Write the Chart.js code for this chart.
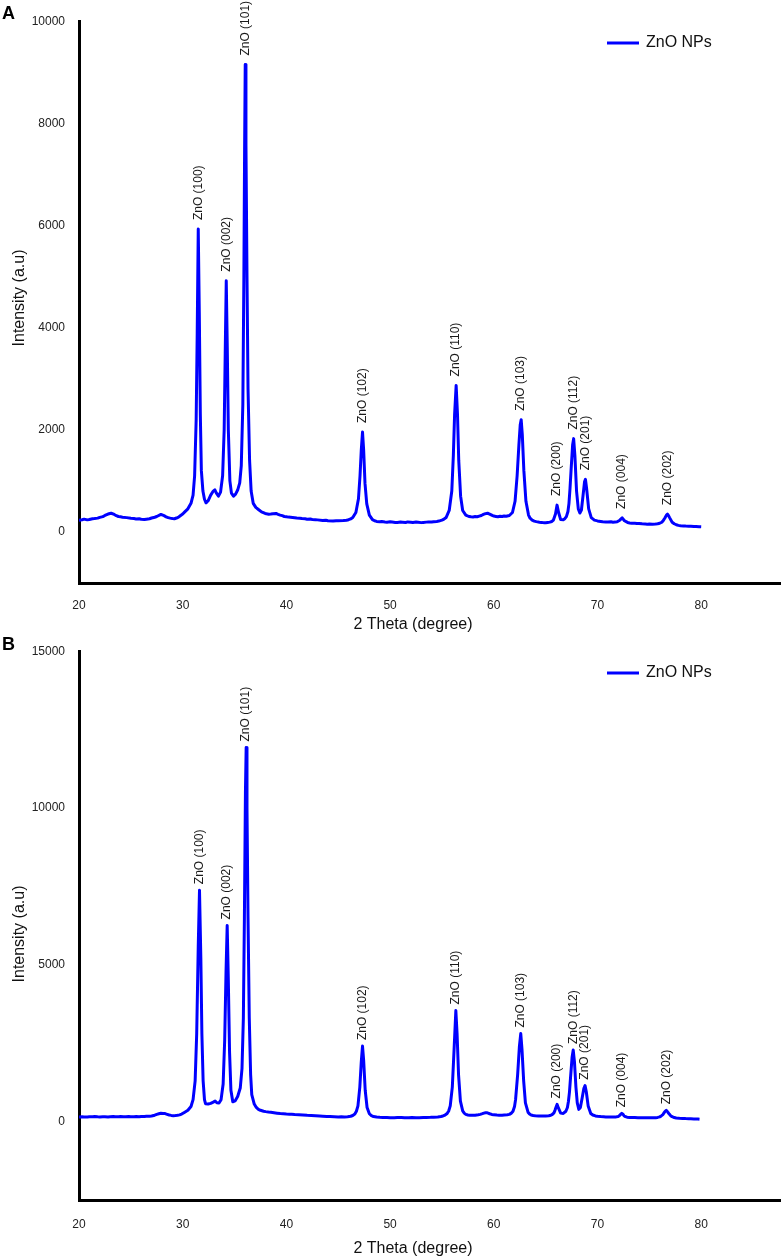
<!DOCTYPE html>
<html><head><meta charset="utf-8">
<script src="https://cdn.jsdelivr.net/npm/chart.js@4.4.0/dist/chart.umd.min.js"></script>
<style>
html,body{margin:0;padding:0;background:#fff;}
body{width:782px;height:1260px;position:relative;overflow:hidden;}
.panel{position:absolute;left:0;width:782px;}
</style></head><body>
<div class="panel" style="top:0;height:640px;z-index:1"><canvas id="cA"></canvas></div>
<div class="panel" style="top:630px;height:630px;z-index:2"><canvas id="cB"></canvas></div>
<script>
// ---------- DATA ----------
const seriesLabel = 'ZnO NPs';
const xTicks = [20, 30, 40, 50, 60, 70, 80];
const yTicksA = [0, 2000, 4000, 6000, 8000, 10000];
const yTicksB = [0, 5000, 10000, 15000];
const peakNames = ['ZnO (100)', 'ZnO (002)', 'ZnO (101)', 'ZnO (102)', 'ZnO (110)', 'ZnO (103)',
                   'ZnO (200)', 'ZnO (112)', 'ZnO (201)', 'ZnO (004)', 'ZnO (202)'];
const peakThetaA = [31.5, 34.2, 36.03, 47.34, 56.37, 62.64, 66.1, 67.7, 68.84, 72.38, 76.75];
const peakThetaB = [31.62, 34.29, 36.12, 47.34, 56.34, 62.6, 66.1, 67.66, 68.8, 72.34, 76.63];

// [2θ, intensity]
const xrdA = [
[20.0,230],[20.3,238],[20.5,250],[20.8,236],[21.0,242],[21.3,258],[21.5,262],[21.8,270],[22.0,285],[22.3,300],[22.5,322],[22.8,350],[23.1,366],[23.4,342],[23.6,318],[23.8,302],[24.0,296],[24.2,288],[24.6,280],[25.0,268],[25.3,262],[25.5,255],[25.8,258],[26.0,248],[26.3,242],[26.5,250],[26.8,258],[27.0,272],[27.3,288],[27.5,302],[27.9,342],[28.2,318],[28.4,296],[28.6,280],[28.8,270],[29.0,262],[29.2,258],[29.4,272],[29.6,290],[29.8,322],[30.0,350],[30.2,392],[30.5,452],[30.8,560],[31.0,720],[31.15,1100],[31.3,2200],[31.4,3900],[31.5,5930],[31.6,4300],[31.7,2300],[31.8,1200],[31.95,800],[32.1,640],[32.25,570],[32.45,610],[32.7,720],[32.95,800],[33.1,825],[33.25,760],[33.45,700],[33.65,780],[33.85,1100],[34.0,2000],[34.1,3500],[34.2,4920],[34.3,3600],[34.4,2000],[34.55,1000],[34.7,760],[34.9,700],[35.1,740],[35.3,820],[35.5,960],[35.65,1300],[35.8,2500],[35.9,5000],[35.97,7500],[36.03,9150],[36.1,7600],[36.2,5000],[36.3,2800],[36.45,1400],[36.6,800],[36.8,560],[37.05,480],[37.3,440],[37.6,392],[37.95,362],[38.3,348],[38.5,352],[38.7,358],[39.0,362],[39.2,345],[39.4,330],[39.6,318],[39.8,302],[40.0,296],[40.2,290],[40.6,282],[41.0,272],[41.3,268],[41.5,262],[41.8,258],[42.0,250],[42.3,252],[42.5,244],[42.8,240],[43.0,236],[43.5,226],[43.8,230],[44.0,220],[44.5,214],[44.8,220],[45.0,218],[45.5,222],[45.8,230],[46.0,240],[46.2,255],[46.4,282],[46.7,380],[46.95,650],[47.1,1100],[47.22,1600],[47.34,1956],[47.45,1600],[47.58,950],[47.75,550],[48.0,330],[48.3,240],[48.5,218],[48.7,206],[49.0,198],[49.2,202],[49.5,194],[49.7,190],[50.0,198],[50.2,194],[50.5,186],[50.7,186],[51.0,194],[51.2,190],[51.5,184],[51.7,196],[52.0,190],[52.2,186],[52.5,194],[52.7,190],[53.0,182],[53.2,186],[53.5,192],[53.7,196],[54.0,194],[54.2,200],[54.5,206],[54.7,212],[55.0,230],[55.2,250],[55.4,282],[55.7,420],[55.95,800],[56.1,1500],[56.22,2300],[56.37,2868],[56.5,2300],[56.62,1400],[56.8,700],[57.0,420],[57.3,330],[57.6,302],[57.8,296],[58.0,294],[58.2,300],[58.4,298],[58.6,310],[58.8,322],[59.0,342],[59.2,358],[59.4,366],[59.6,350],[59.7,340],[59.9,318],[60.0,310],[60.2,304],[60.4,298],[60.6,306],[60.8,302],[61.0,312],[61.2,308],[61.5,322],[61.8,380],[62.05,600],[62.25,1100],[62.42,1700],[62.55,2100],[62.64,2198],[62.75,1900],[62.9,1200],[63.1,600],[63.35,330],[63.5,268],[63.7,232],[63.9,212],[64.1,202],[64.4,190],[64.6,186],[64.8,182],[65.0,180],[65.2,186],[65.4,192],[65.6,205],[65.75,232],[65.95,350],[66.1,525],[66.25,380],[66.45,242],[66.7,240],[66.85,260],[67.0,300],[67.15,400],[67.25,560],[67.35,850],[67.45,1200],[67.6,1700],[67.7,1827],[67.82,1500],[67.98,800],[68.15,450],[68.3,370],[68.45,430],[68.6,700],[68.75,980],[68.84,1030],[68.95,850],[69.15,450],[69.4,280],[69.7,232],[70.0,216],[70.3,206],[70.5,200],[70.8,196],[71.0,194],[71.3,198],[71.5,190],[71.7,192],[71.9,200],[72.15,230],[72.38,275],[72.6,220],[72.9,186],[73.1,176],[73.3,170],[73.6,168],[73.8,164],[74.0,166],[74.3,160],[74.6,156],[74.8,152],[75.0,154],[75.3,150],[75.6,154],[75.8,160],[76.0,170],[76.2,190],[76.35,225],[76.5,272],[76.65,330],[76.75,348],[76.85,320],[76.95,280],[77.2,190],[77.4,160],[77.6,140],[77.8,128],[78.0,120],[78.3,118],[78.5,114],[78.8,112],[79.0,110],[79.3,106],[79.5,104],[79.8,102],[80.0,100]
];

// [2θ, intensity]
const xrdB = [
[20.0,148],[20.3,152],[20.5,150],[20.8,146],[21.0,155],[21.3,158],[21.5,160],[21.8,152],[22.0,150],[22.3,156],[22.5,155],[22.8,150],[23.0,158],[23.3,162],[23.5,152],[23.8,156],[24.0,160],[24.3,154],[24.5,158],[24.8,162],[25.0,155],[25.3,158],[25.5,160],[25.8,156],[26.0,165],[26.3,162],[26.5,170],[26.8,172],[27.0,180],[27.3,205],[27.5,230],[27.7,250],[27.9,265],[28.1,262],[28.3,255],[28.5,232],[28.7,210],[28.9,198],[29.1,190],[29.3,194],[29.5,200],[29.7,215],[29.9,240],[30.2,300],[30.5,360],[30.8,480],[31.0,700],[31.2,1300],[31.35,2800],[31.5,5600],[31.62,7380],[31.75,5200],[31.85,2800],[31.97,1300],[32.1,700],[32.2,570],[32.45,560],[32.7,580],[32.95,620],[33.13,655],[33.3,600],[33.5,590],[33.7,700],[33.9,1200],[34.05,2600],[34.18,4800],[34.29,6255],[34.4,4500],[34.52,2200],[34.65,1000],[34.83,630],[35.05,660],[35.3,800],[35.55,1070],[35.72,1700],[35.85,3300],[35.95,6500],[36.05,10500],[36.12,11930],[36.2,10000],[36.3,6500],[36.42,3300],[36.55,1500],[36.66,860],[36.9,560],[37.1,450],[37.3,392],[37.5,360],[37.8,332],[38.0,318],[38.27,305],[38.5,296],[38.8,282],[39.1,268],[39.4,256],[39.7,248],[40.0,240],[40.3,236],[40.5,233],[40.8,226],[41.2,220],[41.6,212],[42.0,200],[42.4,194],[42.8,186],[43.2,178],[43.5,172],[43.9,166],[44.2,160],[44.6,154],[45.0,148],[45.3,152],[45.6,150],[45.9,158],[46.2,170],[46.4,195],[46.6,240],[46.75,330],[46.9,500],[47.08,1100],[47.22,1900],[47.34,2408],[47.45,1950],[47.6,1000],[47.78,450],[48.0,250],[48.2,190],[48.4,162],[48.7,145],[49.0,136],[49.3,132],[49.7,128],[50.0,126],[50.4,125],[50.7,130],[51.1,130],[51.4,124],[51.8,126],[52.1,130],[52.5,125],[52.8,122],[53.2,128],[53.5,132],[53.9,135],[54.2,140],[54.6,150],[54.9,164],[55.1,180],[55.3,210],[55.5,260],[55.65,340],[55.8,500],[56.0,1100],[56.17,2300],[56.34,3543],[56.46,2800],[56.6,1500],[56.78,650],[57.0,340],[57.15,270],[57.3,232],[57.5,212],[57.7,200],[58.0,202],[58.2,206],[58.5,218],[58.7,230],[58.9,252],[59.05,270],[59.2,282],[59.32,286],[59.45,270],[59.6,250],[59.8,228],[60.0,215],[60.3,208],[60.5,205],[60.8,206],[61.0,210],[61.3,218],[61.5,230],[61.7,270],[61.85,330],[62.0,480],[62.1,700],[62.3,1500],[62.47,2400],[62.6,2806],[62.72,2300],[62.88,1300],[63.05,600],[63.3,300],[63.45,240],[63.6,210],[63.8,195],[64.0,185],[64.3,182],[64.5,180],[64.8,178],[65.0,180],[65.3,186],[65.5,200],[65.65,230],[65.8,280],[65.9,360],[66.0,460],[66.1,548],[66.25,420],[66.45,270],[66.7,260],[66.95,330],[67.1,450],[67.2,650],[67.3,950],[67.4,1400],[67.55,2050],[67.66,2282],[67.78,1900],[67.92,1100],[68.05,600],[68.2,390],[68.35,450],[68.52,750],[68.68,1050],[68.8,1147],[68.92,950],[69.1,500],[69.35,260],[69.55,210],[69.8,180],[70.0,170],[70.3,160],[70.6,154],[70.8,150],[71.0,148],[71.3,145],[71.6,146],[71.8,150],[72.0,165],[72.1,185],[72.22,230],[72.34,264],[72.45,235],[72.55,190],[72.7,158],[72.85,140],[73.1,134],[73.3,130],[73.6,128],[73.9,125],[74.2,126],[74.5,122],[74.8,120],[75.1,120],[75.4,122],[75.6,125],[75.8,134],[76.0,150],[76.15,180],[76.3,220],[76.4,270],[76.5,320],[76.63,358],[76.72,330],[76.8,290],[76.92,240],[77.05,190],[77.2,156],[77.4,130],[77.6,116],[77.9,105],[78.2,100],[78.5,95],[78.8,94],[79.0,90],[79.3,86],[79.5,82],[79.7,80],[79.84,75]
];

// ---------- RENDER ----------
const FONT = "'Liberation Sans', Arial, Helvetica, sans-serif";

function makeOverlay(cfg) {
  return {
    id: 'overlay' + cfg.letter,
    afterDraw(chart) {
      const ctx = chart.ctx, xs = chart.scales.x, ys = chart.scales.y;
      ctx.save();
      // peak labels
      ctx.fillStyle = '#1a1a1a';
      ctx.font = '12px ' + FONT;
      peakNames.forEach((name, i) => {
        const t = cfg.peaks[i];
        let m = -Infinity;
        cfg.data.forEach(p => { if (Math.abs(p[0] - t) < 0.2 && p[1] > m) m = p[1]; });
        const px = xs.getPixelForValue(t);
        const py = ys.getPixelForValue(m) - cfg.gap;
        ctx.save();
        ctx.translate(px, py);
        ctx.rotate(-Math.PI / 2);
        ctx.textAlign = 'left';
        ctx.textBaseline = 'middle';
        ctx.fillText(name, 0, 0);
        ctx.restore();
      });
      // legend
      ctx.strokeStyle = '#0000ff';
      ctx.lineWidth = 3;
      ctx.beginPath();
      ctx.moveTo(607, cfg.legendY);
      ctx.lineTo(639, cfg.legendY);
      ctx.stroke();
      ctx.fillStyle = '#111';
      ctx.font = '16px ' + FONT;
      ctx.textAlign = 'left';
      ctx.textBaseline = 'middle';
      ctx.fillText(seriesLabel, 646, cfg.legendY);
      // axis titles
      ctx.fillStyle = '#111';
      ctx.font = '16px ' + FONT;
      ctx.textAlign = 'center';
      ctx.textBaseline = 'middle';
      ctx.fillText('2 Theta (degree)', 413, cfg.xTitleY);
      ctx.save();
      ctx.translate(20, cfg.yTitleY);
      ctx.rotate(-Math.PI / 2);
      ctx.fillText('Intensity (a.u)', 0, 0);
      ctx.restore();
      // panel letter
      ctx.fillStyle = '#000';
      ctx.font = 'bold 18px ' + FONT;
      ctx.textAlign = 'left';
      ctx.textBaseline = 'alphabetic';
      ctx.fillText(cfg.letter, 2, cfg.letterY);
      ctx.restore();
    }
  };
}

function makeChart(id, cfg) {
  return new Chart(document.getElementById(id), {
    type: 'line',
    data: {
      datasets: [{
        label: seriesLabel,
        data: cfg.data.map(p => ({x: p[0], y: p[1]})),
        borderColor: '#0000ff',
        backgroundColor: '#0000ff',
        borderWidth: 3,
        borderJoinStyle: 'round',
        pointRadius: 0,
        tension: 0,
        fill: false
      }]
    },
    options: {
      responsive: true,
      maintainAspectRatio: false,
      animation: false,
      layout: {padding: {left: 0, right: 2, top: cfg.top, bottom: 0}},
      plugins: {legend: {display: false}, tooltip: {enabled: false}},
      scales: {
        x: {
          type: 'linear', min: 20, max: 87.6,
          grid: {display: false, drawTicks: false},
          border: {display: true, color: '#000', width: 3},
          ticks: {padding: cfg.xPad, color: '#222', font: {family: FONT, size: 12}, maxRotation: 0, autoSkip: false,
                  callback: v => String(v)},
          afterBuildTicks: s => { s.ticks = xTicks.map(v => ({value: v})); },
          afterFit: s => { s.height = cfg.xh; }
        },
        y: {
          type: 'linear', min: cfg.ymin, max: cfg.ymax,
          grid: {display: false, drawTicks: false},
          border: {display: true, color: '#000', width: 3},
          ticks: {padding: 14, color: '#222', font: {family: FONT, size: 12}, callback: v => String(v)},
          afterBuildTicks: s => { s.ticks = cfg.yTicks.map(v => ({value: v})); },
          afterFit: s => { s.width = 79; }
        }
      }
    },
    plugins: [makeOverlay(cfg)]
  });
}

makeChart('cA', {
  letter: 'A', data: xrdA, peaks: peakThetaA, yTicks: yTicksA,
  ymin: -1000, ymax: 10000, top: 20, xh: 57, xPad: 15, gap: 9,
  legendY: 43, xTitleY: 625, yTitleY: 298, letterY: 19
});
makeChart('cB', {
  letter: 'B', data: xrdB, peaks: peakThetaB, yTicks: yTicksB,
  ymin: -2500, ymax: 15000, top: 16, xh: 60, xPad: 17, gap: 6,
  legendY: 43, xTitleY: 619, yTitleY: 304, letterY: 20
});
</script>
</body></html>
